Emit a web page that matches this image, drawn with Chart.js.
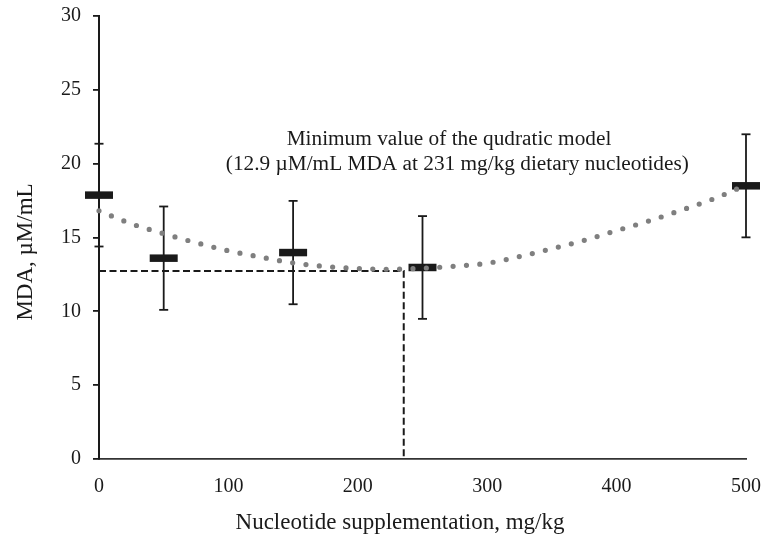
<!DOCTYPE html>
<html>
<head>
<meta charset="utf-8">
<script src="https://cdn.jsdelivr.net/npm/chart.js@4/dist/chart.umd.min.js"></script>
<style>
  html, body { margin: 0; padding: 0; background: #ffffff; }
  #wrap { width: 764px; height: 534px; }
</style>
</head>
<body>
<div id="wrap"><canvas id="c" width="764" height="534"></canvas></div>
<script>
// ---- data ----
const doses = [0, 50, 150, 250, 500];                 // mg/kg
const mdaMean = [17.87, 13.6, 13.98, 12.97, 18.5];    // µM/mL
const mdaErr = [3.48, 3.5, 3.5, 3.48, 3.49];          // ± error

// quadratic trend line (dotted)
const trendX = [0, 25, 50, 75, 100, 125, 150, 175, 200, 225, 250, 275, 300, 325, 350, 375, 400, 425, 450, 475, 500];
const trendY = [16.81, 15.93, 15.26, 14.65, 14.10, 13.67, 13.28, 13.04, 12.90, 12.85, 12.92, 13.06, 13.26, 13.71, 14.24, 14.81, 15.47, 16.12, 16.85, 17.62, 18.55];

// minimum marker (dashed guide lines)
const minX = 235.5;
const minY = 12.73;

const xTicks = [0, 100, 200, 300, 400, 500];
const yTicks = [0, 5, 10, 15, 20, 25, 30];

const xTitle = 'Nucleotide supplementation, mg/kg';
const yTitle = 'MDA, µM/mL';
const noteLines = ['Minimum value of the qudratic model', '(12.9 µM/mL MDA at 231 mg/kg dietary nucleotides)'];

// ---- build datasets ----
const meanPts = doses.map((d, i) => ({x: d, y: mdaMean[i]}));
const errPts = [];
doses.forEach((d, i) => {
  errPts.push({x: d, y: mdaMean[i] - mdaErr[i]});
  errPts.push({x: d, y: mdaMean[i] + mdaErr[i]});
  errPts.push({x: d, y: null});
});
const trendPts = trendX.map((x, i) => ({x: x, y: trendY[i]}));
const guidePts = [{x: 0, y: minY}, {x: minX, y: minY}, {x: minX, y: 0}];

const FONT = "'Liberation Serif', 'Times New Roman', serif";
const INK = '#1a1a1a';

const textPlugin = {
  id: 'texts',
  afterDraw(chart) {
    const ctx = chart.ctx;
    const xs = chart.scales.x, ys = chart.scales.y;
    ctx.save();
    ctx.fillStyle = INK;
    ctx.textBaseline = 'alphabetic';
    // annotation
    ctx.font = '21.3px ' + FONT;
    ctx.textAlign = 'left';
    ctx.fillText(noteLines[0], xs.getPixelForValue(145), ys.getPixelForValue(21.26));
    ctx.fillText(noteLines[1], xs.getPixelForValue(98), ys.getPixelForValue(19.57));
    // x title
    ctx.font = '23px ' + FONT;
    ctx.textAlign = 'center';
    ctx.fillText(xTitle, 400, 529);
    // y title
    ctx.translate(31.5, 252);
    ctx.rotate(-Math.PI / 2);
    ctx.fillText(yTitle, 0, 0);
    ctx.restore();
  }
};

new Chart(document.getElementById('c'), {
  type: 'scatter',
  data: {
    datasets: [
      {
        label: 'trend',
        data: trendPts,
        showLine: true,
        borderColor: '#7f7f7f',
        borderWidth: 5.2,
        borderDash: [0, 13.4],
        borderCapStyle: 'round',
        cubicInterpolationMode: 'monotone',
        pointRadius: 0,
        clip: false,
        order: 0
      },
      {
        label: 'mean',
        data: meanPts,
        pointStyle: 'line',
        pointRadius: 14,
        pointBorderWidth: 7.5,
        borderColor: '#1a1a1a',
        backgroundColor: '#1a1a1a',
        clip: false,
        order: 1
      },
      {
        label: 'err',
        data: errPts,
        showLine: true,
        spanGaps: false,
        borderColor: '#1a1a1a',
        borderWidth: 1.8,
        pointStyle: 'line',
        pointRadius: 4.5,
        pointBorderWidth: 1.8,
        pointBorderColor: '#1a1a1a',
        clip: false,
        order: 2
      },
      {
        label: 'guide',
        data: guidePts,
        showLine: true,
        borderColor: '#1a1a1a',
        borderWidth: 2,
        borderDash: [7, 3.5],
        pointRadius: 0,
        clip: false,
        order: 3
      }
    ]
  },
  options: {
    responsive: false,
    animation: false,
    events: [],
    layout: { autoPadding: false, padding: { left: 0, right: 18, top: 16, bottom: 0 } },
    plugins: { legend: { display: false }, tooltip: { enabled: false } },
    scales: {
      x: {
        type: 'linear',
        min: 0, max: 500,
        afterBuildTicks(s) { s.ticks = xTicks.map(v => ({value: v})); },
        afterFit(s) { s.height = 75; s.paddingLeft = 0; s.paddingRight = 0; },
        grid: { display: false, drawTicks: false },
        border: { display: true, color: '#333333', width: 1.8 },
        ticks: { font: { family: FONT, size: 20 }, color: INK, padding: 16, maxRotation: 0 },
        title: { display: false }
      },
      y: {
        type: 'linear',
        min: 0, max: 30,
        afterBuildTicks(s) { s.ticks = yTicks.map(v => ({value: v})); },
        afterFit(s) { s.width = 99; s.paddingTop = 0; s.paddingBottom = 0; },
        grid: { drawOnChartArea: false, drawTicks: true, tickLength: 6, color: '#1a1a1a', lineWidth: 1.8 },
        border: { display: true, color: '#1a1a1a', width: 2 },
        ticks: { font: { family: FONT, size: 20 }, color: INK, padding: 12 },
        title: { display: false }
      }
    }
  },
  plugins: [textPlugin]
});
</script>
</body>
</html>
